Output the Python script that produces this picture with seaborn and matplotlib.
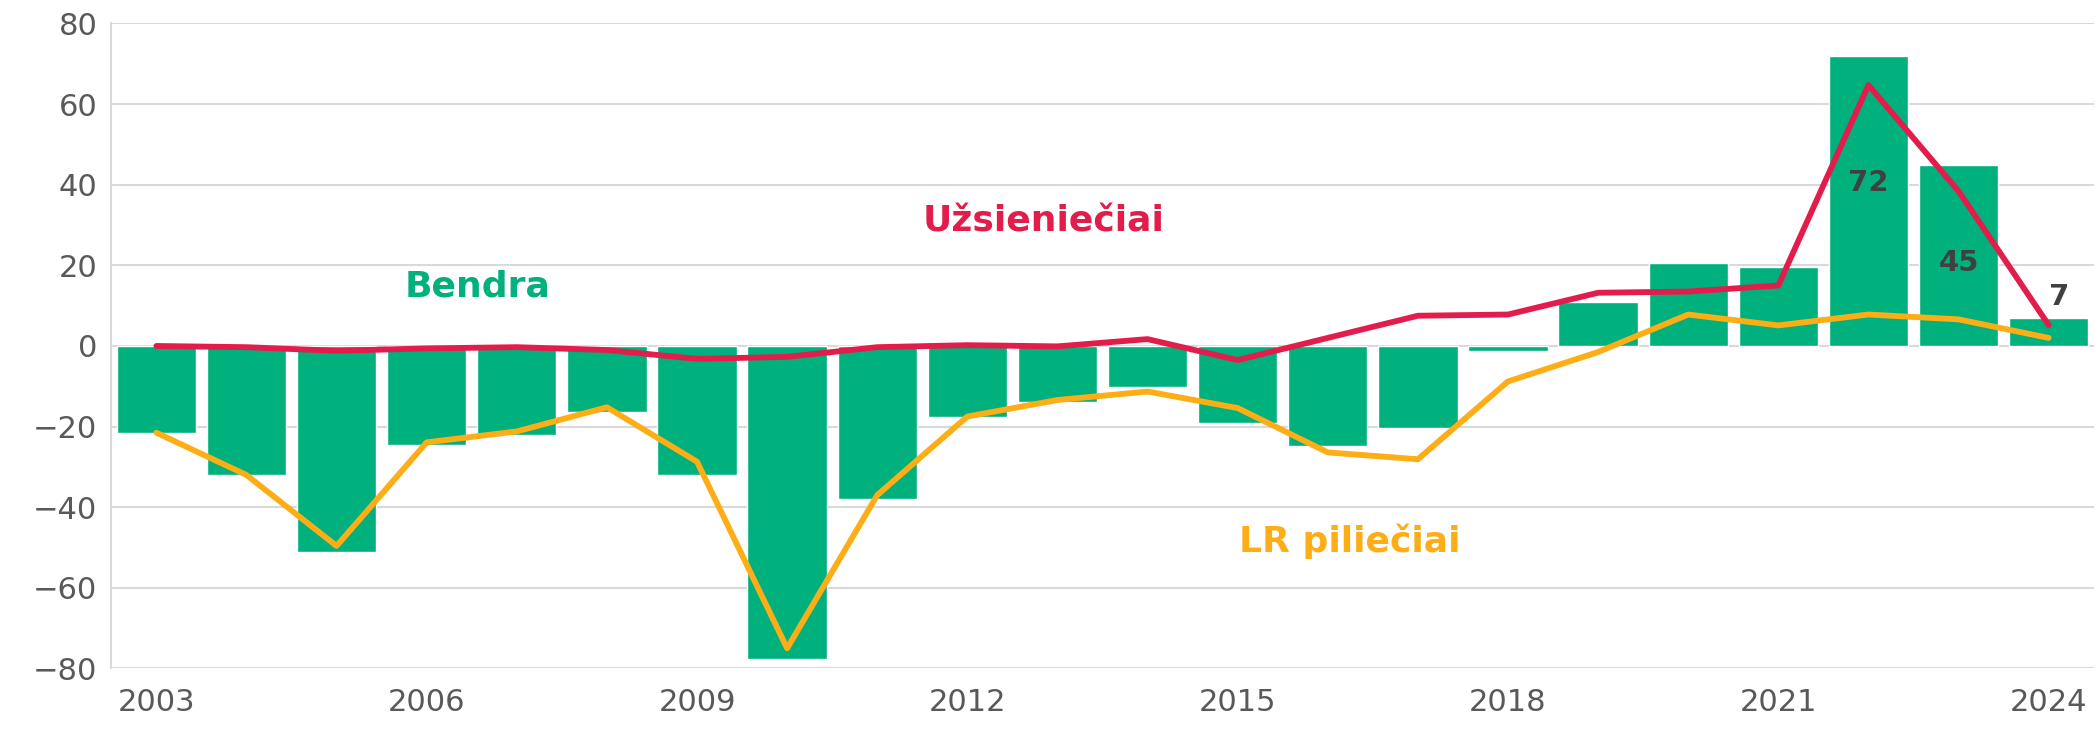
import numpy as np
import pandas as pd
import matplotlib
matplotlib.use("Agg")
import matplotlib.pyplot as plt
import seaborn as sns

# data
years = list(range(2003, 2025))
bendra = [-21.5, -32, -51, -24.6, -22, -16.5, -31.9, -77.7, -38, -17.7, -13.9, -10.2,
          -19.2, -24.7, -20.4, -1.2, 11, 20.7, 19.7, 72, 44.9, 6.9]
uzsienieciai = [0, -0.3, -1.2, -0.6, -0.3, -1, -3.2, -2.7, -0.3, 0.2, -0.1, 1.7,
                -3.5, 2, 7.5, 7.8, 13.2, 13.5, 15, 64.7, 38.4, 5.2]
lr_pilieciai = [-21.5, -32, -49.6, -23.9, -21.2, -15.2, -28.7, -75, -37, -17.5, -13.4, -11.3,
                -15.4, -26.4, -28.1, -8.8, -1.5, 7.8, 5.1, 7.8, 6.6, 2]
tick_years = [2003, 2006, 2009, 2012, 2015, 2018, 2021, 2024]
labelled = {2022: "72", 2023: "45", 2024: "7"}

green = "#00B07D"
red = "#E31D4B"
orange = "#FDAD16"
grey = "#595959"

df = pd.DataFrame({"year": years, "bendra": bendra,
                   "uzs": uzsienieciai, "lr": lr_pilieciai})
df["idx"] = np.arange(len(df))

sns.set_style("white")
plt.rcParams["font.family"] = ["DejaVu Sans"]

fig, ax = plt.subplots(figsize=(21, 7.33), dpi=100)
fig.subplots_adjust(left=0.053, right=0.997, top=0.968, bottom=0.088)

sns.barplot(data=df, x="idx", y="bendra", color=green, width=0.88,
            saturation=1, ax=ax, zorder=2)
sns.lineplot(data=df, x="idx", y="uzs", color=red, linewidth=4.2, ax=ax,
             zorder=3, solid_capstyle="round", solid_joinstyle="round")
sns.lineplot(data=df, x="idx", y="lr", color=orange, linewidth=4.2, ax=ax,
             zorder=3, solid_capstyle="round", solid_joinstyle="round")

ax.set_xlim(-0.5, len(years) - 0.5)
ax.set_ylim(-80, 80)
ax.set_yticks(range(-80, 81, 20))
ax.set_yticklabels([f"{v}".replace("-", "\u2212") for v in range(-80, 81, 20)])
ax.set_xticks([years.index(y) for y in tick_years])
ax.set_xticklabels([str(y) for y in tick_years])
ax.tick_params(axis="both", length=0, labelsize=22, labelcolor=grey)
ax.tick_params(axis="x", pad=14)
ax.tick_params(axis="y", pad=10)
ax.set_xlabel("")
ax.set_ylabel("")

ax.yaxis.grid(True, color="#D9D9D9", linewidth=1.5, zorder=0)
ax.set_axisbelow(True)
for s in ["top", "right", "bottom"]:
    ax.spines[s].set_visible(False)
ax.spines["left"].set_color("#D9D9D9")
ax.spines["left"].set_linewidth(1.5)

# series names
ax.text(3.57, 14.7, "Bendra", color=green, fontsize=26, fontweight="bold",
        ha="center", va="center")
ax.text(9.85, 30.9, "Užsieniečiai", color=red, fontsize=26, fontweight="bold",
        ha="center", va="center")
ax.text(13.24, -48.4, "LR piliečiai", color=orange, fontsize=26, fontweight="bold",
        ha="center", va="center")

# value labels on last bars
label_y = {2022: 40.4, 2023: 20.7, 2024: 12.2}
for yr, txt in labelled.items():
    i = years.index(yr)
    dx = 0.12 if yr == 2024 else 0
    ax.text(i + dx, label_y[yr], txt, color="#404040", fontsize=21,
            fontweight="bold", ha="center", va="center", zorder=4)

fig.savefig("out.png", dpi=100)
